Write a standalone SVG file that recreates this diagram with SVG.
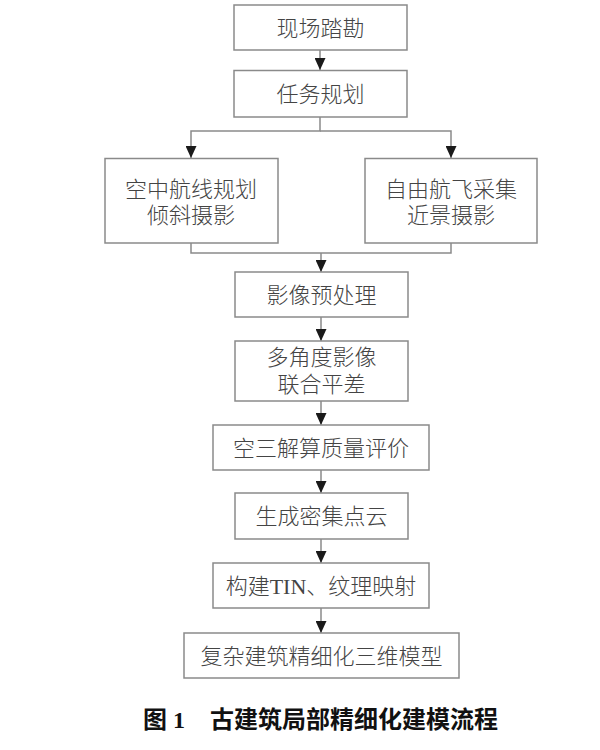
<svg xmlns="http://www.w3.org/2000/svg" width="600" height="750" viewBox="0 0 600 750">
<style>
.box{fill:#fff;stroke:#8a8a8a;stroke-width:1.5}
.t{font-family:"Liberation Serif","Noto Sans CJK SC",serif;font-size:22px;font-weight:300;fill:#444;text-anchor:middle}
.ln{fill:none;stroke:#8a8a8a;stroke-width:1.5}
.cap{font-family:"Liberation Serif","Noto Sans CJK SC",serif;font-size:24px;font-weight:bold;fill:#111}
</style>
<defs>
<marker id="ah" markerUnits="userSpaceOnUse" markerWidth="12" markerHeight="11" viewBox="0 0 12 11" refX="12" refY="5.5" orient="auto">
<path d="M0,0 L12,5.5 L0,11 Z" fill="#1a1a1a"/>
</marker>
</defs>
<rect width="600" height="750" fill="#fff"/>
<g id="connectors">
<line class="ln" x1="320" y1="50" x2="320" y2="70" marker-end="url(#ah)"/>
<polyline class="ln" points="320,117 320,131 191,131 191,158" marker-end="url(#ah)"/>
<polyline class="ln" points="320,131 451,131 451,158" marker-end="url(#ah)"/>
<polyline class="ln" points="191,243 191,253 451,253 451,243"/>
<line class="ln" x1="321" y1="253" x2="321" y2="272" marker-end="url(#ah)"/>
<line class="ln" x1="321" y1="317" x2="321" y2="341" marker-end="url(#ah)"/>
<line class="ln" x1="321" y1="401" x2="321" y2="425" marker-end="url(#ah)"/>
<line class="ln" x1="321" y1="470" x2="321" y2="493" marker-end="url(#ah)"/>
<line class="ln" x1="321" y1="539" x2="321" y2="563" marker-end="url(#ah)"/>
<line class="ln" x1="321" y1="608" x2="321" y2="633" marker-end="url(#ah)"/>
</g>
<g id="n1"><rect class="box" x="234" y="5" width="173" height="45"/><text class="t" x="320.5" y="36">现场踏勘</text></g>
<g id="n2"><rect class="box" x="234" y="70.5" width="173" height="46.5"/><text class="t" x="320.5" y="102">任务规划</text></g>
<g id="n3"><rect class="box" x="105" y="158.5" width="173" height="84.5"/><text class="t" x="191" y="197">空中航线规划</text><text class="t" x="191" y="223">倾斜摄影</text></g>
<g id="n4"><rect class="box" x="365" y="158.5" width="172" height="84.5"/><text class="t" x="451" y="197">自由航飞采集</text><text class="t" x="451" y="223">近景摄影</text></g>
<g id="n5"><rect class="box" x="235" y="272" width="173" height="45"/><text class="t" x="321.5" y="303">影像预处理</text></g>
<g id="n6"><rect class="box" x="235" y="341" width="173" height="60"/><text class="t" x="321.5" y="365">多角度影像</text><text class="t" x="321.5" y="392">联合平差</text></g>
<g id="n7"><rect class="box" x="213" y="425" width="216" height="45"/><text class="t" x="321" y="456">空三解算质量评价</text></g>
<g id="n8"><rect class="box" x="235" y="493" width="173" height="46"/><text class="t" x="321.5" y="524">生成密集点云</text></g>
<g id="n9"><rect class="box" x="213" y="563" width="216" height="45"/><text class="t" x="321" y="594">构建TIN、纹理映射</text></g>
<g id="n10"><rect class="box" x="184" y="633" width="275" height="45"/><text class="t" x="321.5" y="664">复杂建筑精细化三维模型</text></g>
<g id="caption"><text class="cap" y="728"><tspan x="143">图 1</tspan><tspan x="210">古建筑局部精细化建模流程</tspan></text></g>
</svg>
